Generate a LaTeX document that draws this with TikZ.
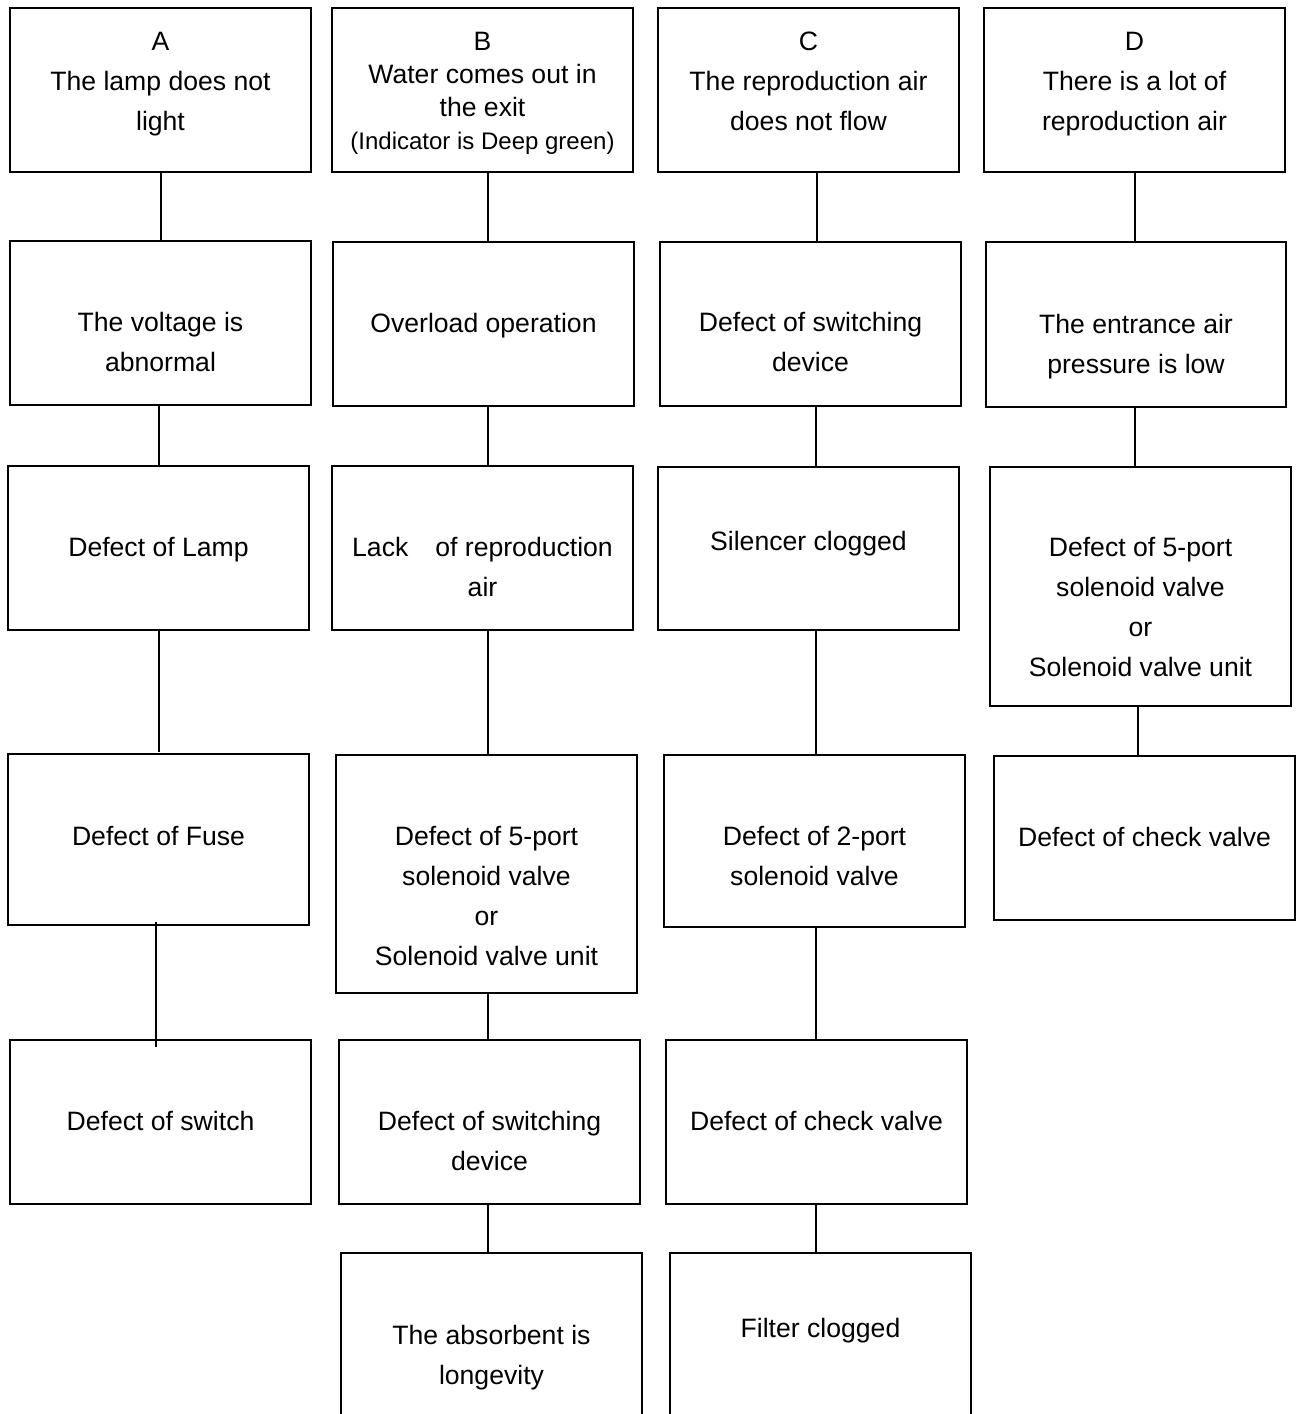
\documentclass[tikz,border=0pt]{standalone}
\usepackage{fontspec}
\setmainfont{Liberation Sans}
\begin{document}
\tikzset{
  box/.style={draw, line width=2pt, rectangle, inner sep=0pt, minimum width=301pt},
  conn/.style={line width=1.8pt},
  txt/.style={align=center, inner sep=0pt, font=\fontsize{26.6}{40}\selectfont},
}
\begin{tikzpicture}[x=1pt,y=-1pt]
\useasboundingbox (0,0) rectangle (1301,1414);
\clip (0,0) rectangle (1301,1414);

% ---- column A ----
\node[box, minimum height=164pt] (a1) at (160.5,90) {};
\node[box, minimum height=164pt] (a2) at (160.5,323) {};
\node[box, minimum height=164pt] (a3) at (158.5,548) {};
\node[box, minimum height=171pt] (a4) at (158.5,839.5) {};
\node[box, minimum height=164pt] (a5) at (160.5,1122) {};
% ---- column B ----
\node[box, minimum height=164pt] (b1) at (482.5,90) {};
\node[box, minimum height=164pt] (b2) at (483.5,324) {};
\node[box, minimum height=164pt] (b3) at (482.5,548) {};
\node[box, minimum height=238pt] (b4) at (486.5,874) {};
\node[box, minimum height=164pt] (b5) at (489.5,1122) {};
\node[box, minimum height=204pt] (b6) at (491.5,1355) {};
% ---- column C ----
\node[box, minimum height=164pt] (c1) at (808.5,90) {};
\node[box, minimum height=164pt] (c2) at (810.5,324) {};
\node[box, minimum height=163pt] (c3) at (808.5,548.5) {};
\node[box, minimum height=172pt] (c4) at (814.5,841) {};
\node[box, minimum height=164pt] (c5) at (816.5,1122) {};
\node[box, minimum height=204pt] (c6) at (820.5,1355) {};
% ---- column D ----
\node[box, minimum height=164pt] (d1) at (1134.5,90) {};
\node[box, minimum height=165pt, minimum width=300pt] (d2) at (1136,324.5) {};
\node[box, minimum height=239pt] (d3) at (1140.5,586.5) {};
\node[box, minimum height=164pt] (d4) at (1144.5,838) {};

% ---- texts ----
\node[txt] (a1t) at (160.5,84) {A\\The lamp does not\\light};
\node[txt] (a2t) at (160.5,342) {The voltage is\\abnormal};
\node[txt] (a3t) at (158.5,549.5) {Defect of Lamp};
\node[txt] (a4t) at (158.5,836) {Defect of Fuse};
\node[txt] (a5t) at (160.5,1121.4) {Defect of switch};

\node[txt, font=\fontsize{26.6}{33}\selectfont] (b1t) at (482.5,93)
  {B\\Water comes out in\\the exit\\{\fontsize{24}{33}\selectfont (Indicator is Deep green)}};
\node[txt] (b2t) at (483.5,326) {Overload operation};
\node[txt] (b3t) at (482.5,567.4) {Lack\hspace{19.6pt} of reproduction\\air};
\node[txt] (b4t) at (486.5,896.4) {Defect of 5-port\\solenoid valve\\or\\Solenoid valve unit};
\node[txt] (b5t) at (489.5,1141.4) {Defect of switching\\device};
\node[txt] (b6t) at (491.5,1358) {The absorbent is\\longevity};

\node[txt] (c1t) at (808.5,81.4) {C\\The reproduction air\\does not flow};
\node[txt] (c2t) at (810.5,342.4) {Defect of switching\\device};
\node[txt] (c3t) at (808.5,544) {Silencer clogged};
\node[txt] (c4t) at (814.5,856.4) {Defect of 2-port\\solenoid valve};
\node[txt] (c5t) at (816.5,1121.4) {Defect of check valve};
\node[txt] (c6t) at (820.5,1331) {Filter clogged};

\node[txt] (d1t) at (1134.5,84) {D\\There is a lot of\\reproduction air};
\node[txt] (d2t) at (1136,347) {The entrance air\\pressure is low};
\node[txt] (d3t) at (1140.5,606.8) {Defect of 5-port\\solenoid valve\\or\\Solenoid valve unit};
\node[txt] (d4t) at (1144.5,836.8) {Defect of check valve};

% ---- connectors ----
\draw[conn] ([xshift=0.5pt]a1.south) -- ([xshift=0.5pt]a2.north);
\draw[conn] ([xshift=-1.5pt]a2.south) -- ([xshift=0.5pt]a3.north);
\draw[conn] ([xshift=0.5pt]a3.south) -- ([xshift=0.5pt,yshift=1pt]a4.north);
\draw[conn] ([xshift=-2.5pt,yshift=4pt]a4.south) -- ([xshift=-4.5pt,yshift=-8pt]a5.north);

\draw[conn] ([xshift=5.5pt]b1.south) -- ([xshift=4.5pt]b2.north);
\draw[conn] ([xshift=4.5pt]b2.south) -- ([xshift=5.5pt]b3.north);
\draw[conn] ([xshift=5.5pt,yshift=2pt]b3.south) -- ([xshift=1.5pt]b4.north);
\draw[conn] ([xshift=1.5pt]b4.south) -- ([xshift=-1.5pt]b5.north);
\draw[conn] ([xshift=-1.5pt]b5.south) -- ([xshift=-3.5pt]b6.north);

\draw[conn] ([xshift=8.5pt]c1.south) -- ([xshift=6.5pt]c2.north);
\draw[conn] ([xshift=5.5pt]c2.south) -- ([xshift=7.5pt]c3.north);
\draw[conn] ([xshift=7.5pt]c3.south) -- ([xshift=1.5pt]c4.north);
\draw[conn] ([xshift=1.5pt]c4.south) -- ([xshift=-0.5pt]c5.north);
\draw[conn] ([xshift=-0.5pt]c5.south) -- ([xshift=-4.5pt]c6.north);

\draw[conn] ([xshift=0.5pt]d1.south) -- ([xshift=-1pt]d2.north);
\draw[conn] ([xshift=-1pt]d2.south) -- ([xshift=-5.5pt]d3.north);
\draw[conn] ([xshift=-2.5pt]d3.south) -- ([xshift=-6.5pt]d4.north);
\end{tikzpicture}
\end{document}
